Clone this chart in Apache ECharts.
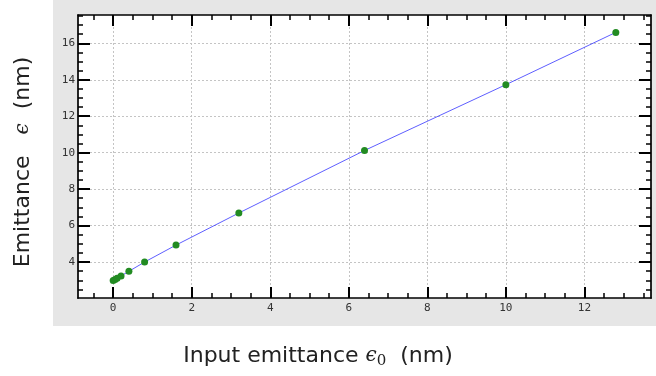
<!DOCTYPE html>
<html>
<head>
<meta charset="utf-8">
<script src="https://cdn.jsdelivr.net/npm/echarts@6/dist/echarts.min.js"></script>
<style>
  html, body { margin: 0; padding: 0; background: #ffffff; }
  #chart { width: 656px; height: 376px; }
</style>
</head>
<body>
<div id="chart"></div>
<script>
// Input emittance (nm) and resulting emittance (nm)
const inputEmittance = [0, 0.05, 0.1, 0.2, 0.4, 0.8, 1.6, 3.2, 6.4, 10, 12.8];
const outputEmittance = [2.98, 3.04, 3.11, 3.24, 3.49, 4.00, 4.93, 6.69, 10.12, 13.73, 16.6];

const xMajorTicks = [0, 2, 4, 6, 8, 10, 12];
const yMajorTicks = [4, 6, 8, 10, 12, 14, 16];
const xMinorTicks = [-0.5, 0.5, 1, 1.5, 2.5, 3, 3.5, 4.5, 5, 5.5, 6.5, 7, 7.5, 8.5, 9, 9.5, 10.5, 11, 11.5, 12.5, 13, 13.5];
const yMinorTicks = [2.5, 3, 3.5, 4.5, 5, 5.5, 6.5, 7, 7.5, 8.5, 9, 9.5, 10.5, 11, 11.5, 12.5, 13, 13.5, 14.5, 15, 15.5, 16.5, 17, 17.5];

// axis ranges padded by 7% of the data span on each side
function padded(arr) {
  const lo = Math.min(...arr), hi = Math.max(...arr);
  const p = (hi - lo) * 0.07;
  return [lo - p, hi + p];
}
const [xMin, xMax] = padded(inputEmittance);
const [yMin, yMax] = padded(outputEmittance);

const points = inputEmittance.map((x, i) => [x, outputEmittance[i]]);

const tickFont = { fontFamily: 'DejaVu Sans Mono', fontSize: 11, color: '#333333' };

function axis(pos, dim, opts) {
  return {
    type: 'value',
    position: pos,
    min: dim === 'x' ? xMin : yMin,
    max: dim === 'x' ? xMax : yMax,
    axisLine: { show: !!opts.line, onZero: false, lineStyle: { color: '#000000', width: 1.7 } },
    axisTick: { show: true, inside: true, length: opts.len, lineStyle: { color: '#000000', width: opts.tw }, customValues: opts.ticks },
    axisLabel: opts.labels ? Object.assign({ show: true, customValues: opts.ticks, margin: dim === 'x' ? 5 : 3 }, tickFont) : { show: false },
    splitLine: { show: !!opts.split, lineStyle: { color: '#c4c4c4', width: 1, type: [2, 2] } },
    minorTick: { show: false },
    minorSplitLine: { show: false }
  };
}

const chart = echarts.init(document.getElementById('chart'), null, { renderer: 'canvas' });

const titleFont = 'DejaVu Sans';
const titleColor = '#222222';

chart.setOption({
  animation: false,
  backgroundColor: '#ffffff',
  graphic: [
    {
      type: 'rect', z: -10, silent: true,
      shape: { x: 53, y: 0, width: 603, height: 326 },
      style: { fill: '#e6e6e6' }
    },
    {
      type: 'text', silent: true,
      x: 23, y: 162, rotation: Math.PI / 2,
      style: {
        text: 'Emittance   {e|ϵ}  (nm)',
        fontFamily: titleFont, fontSize: 22, fill: titleColor,
        align: 'center', verticalAlign: 'middle',
        rich: { e: { fontFamily: 'DejaVu Serif', fontStyle: 'italic', fontSize: 20, fill: titleColor } }
      }
    },
    {
      type: 'text', silent: true,
      x: 318, y: 356,
      style: {
        text: 'Input emittance {e|ϵ}{s|0}  (nm)',
        fontFamily: titleFont, fontSize: 22, fill: titleColor,
        align: 'center', verticalAlign: 'middle',
        rich: {
          e: { fontFamily: 'DejaVu Serif', fontStyle: 'italic', fontSize: 20, fill: titleColor },
          s: { fontFamily: 'DejaVu Serif', fontSize: 15, fill: titleColor, padding: [10, 0, 0, 0] }
        }
      }
    }
  ],
  grid: { left: 78, right: 5, top: 15, bottom: 78, show: true, backgroundColor: '#ffffff', borderWidth: 0 },
  xAxis: [
    axis('bottom', 'x', { len: 11, tw: 2, ticks: xMajorTicks, labels: true, split: true, line: true }),
    axis('bottom', 'x', { len: 5, tw: 1.5, ticks: xMinorTicks }),
    axis('top', 'x', { len: 11, tw: 2, ticks: xMajorTicks, line: true }),
    axis('top', 'x', { len: 5, tw: 1.5, ticks: xMinorTicks })
  ],
  yAxis: [
    axis('left', 'y', { len: 12, tw: 2, ticks: yMajorTicks, labels: true, split: true, line: true }),
    axis('left', 'y', { len: 5, tw: 1.5, ticks: yMinorTicks }),
    axis('right', 'y', { len: 12, tw: 2, ticks: yMajorTicks, line: true }),
    axis('right', 'y', { len: 5, tw: 1.5, ticks: yMinorTicks })
  ],
  series: [
    {
      type: 'line',
      xAxisIndex: 0, yAxisIndex: 0,
      data: points,
      symbol: 'circle',
      symbolSize: 7,
      showSymbol: true,
      lineStyle: { color: 'rgba(40,40,255,0.75)', width: 1 },
      itemStyle: { color: '#228b22', borderWidth: 0 },
      z: 5
    }
  ]
});
</script>
</body>
</html>
